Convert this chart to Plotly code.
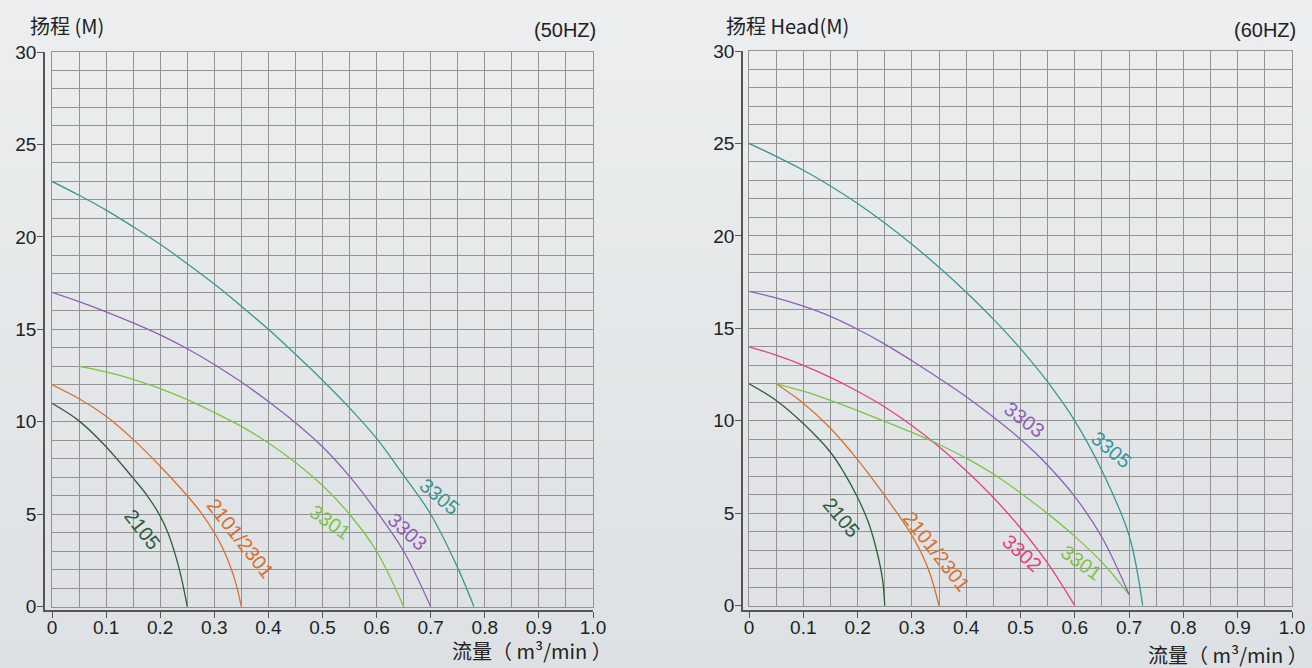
import plotly.graph_objects as go

W, H = 1312, 668

# ---------------- data ----------------
# 50 Hz panel
x_2105_50 = [0, 0.05, 0.1, 0.15, 0.175, 0.2, 0.215, 0.23, 0.24, 0.25]
y_2105_50 = [11, 10.05, 8.65, 6.95, 6.05, 4.9, 3.95, 2.6, 1.45, 0]
x_2101_50 = [0, 0.05, 0.1, 0.15, 0.2, 0.25, 0.275, 0.3, 0.315, 0.33, 0.34, 0.35]
y_2101_50 = [12, 11.25, 10.3, 9.05, 7.6, 6.0, 5.1, 4.0, 3.2, 2.15, 1.25, 0]
x_3301_50 = [0.05, 0.1, 0.15, 0.2, 0.25, 0.3, 0.35, 0.4, 0.45, 0.5, 0.55, 0.6, 0.65]
y_3301_50 = [13, 12.7, 12.3, 11.8, 11.2, 10.5, 9.75, 8.85, 7.8, 6.55, 5.0, 3.0, 0]
x_3303_50 = [0, 0.05, 0.1, 0.15, 0.2, 0.25, 0.3, 0.35, 0.4, 0.45, 0.5, 0.55, 0.6, 0.65, 0.7]
y_3303_50 = [17, 16.5, 15.95, 15.35, 14.7, 13.95, 13.1, 12.15, 11.1, 9.95, 8.65, 7.05, 5.15, 3.0, 0]
x_3305_50 = [0, 0.05, 0.1, 0.15, 0.2, 0.25, 0.3, 0.35, 0.4, 0.45, 0.5, 0.55, 0.6, 0.65, 0.7, 0.75, 0.78]
y_3305_50 = [23, 22.25, 21.45, 20.55, 19.6, 18.55, 17.45, 16.25, 15.0, 13.65, 12.25, 10.75, 9.1, 7.1, 5.0, 2.1, 0]

# 60 Hz panel
x_2105_60 = [0, 0.05, 0.1, 0.15, 0.175, 0.2, 0.22, 0.235, 0.246, 0.25]
y_2105_60 = [12, 11.1, 9.85, 8.3, 7.2, 5.85, 4.5, 3.0, 1.4, 0]
x_2101_60 = [0.05, 0.1, 0.15, 0.2, 0.25, 0.3, 0.33, 0.35]
y_2101_60 = [12, 10.95, 9.6, 7.9, 5.95, 3.8, 2.0, 0]
x_3302_60 = [0, 0.05, 0.1, 0.15, 0.2, 0.25, 0.3, 0.35, 0.4, 0.45, 0.5, 0.55, 0.6]
y_3302_60 = [14, 13.55, 13.0, 12.35, 11.6, 10.75, 9.75, 8.6, 7.3, 5.85, 4.2, 2.3, 0]
x_3301_60 = [0.05, 0.1, 0.15, 0.2, 0.25, 0.3, 0.35, 0.4, 0.45, 0.5, 0.55, 0.6, 0.65, 0.7]
y_3301_60 = [12, 11.6, 11.1, 10.55, 9.97, 9.37, 8.72, 7.98, 7.12, 6.1, 4.98, 3.75, 2.35, 0.6]
x_3303_60 = [0, 0.05, 0.1, 0.15, 0.2, 0.25, 0.3, 0.35, 0.4, 0.45, 0.5, 0.55, 0.6, 0.65, 0.7]
y_3303_60 = [17, 16.65, 16.2, 15.65, 14.95, 14.15, 13.25, 12.3, 11.3, 10.2, 9.0, 7.6, 5.9, 3.7, 0.6]
x_3305_60 = [0, 0.05, 0.1, 0.15, 0.2, 0.25, 0.3, 0.35, 0.4, 0.45, 0.5, 0.55, 0.6, 0.65, 0.7, 0.725]
y_3305_60 = [25, 24.3, 23.55, 22.7, 21.75, 20.7, 19.55, 18.3, 16.95, 15.5, 13.9, 12.1, 10.0, 7.3, 3.8, 0]

x_tickvals = [0, 0.1, 0.2, 0.3, 0.4, 0.5, 0.6, 0.7, 0.8, 0.9, 1.0]
x_ticktext = ["0", "0.1", "0.2", "0.3", "0.4", "0.5", "0.6", "0.7", "0.8", "0.9", "1.0"]
y_tickvals = [0, 5, 10, 15, 20, 25, 30]

# label name, x, y, angle
labels_50 = [("2105", 0.168, 4.15, 52), ("2101/2301", 0.3475, 3.7, 52),
             ("3301", 0.514, 4.58, 35), ("3303", 0.658, 4.04, 42), ("3305", 0.717, 5.93, 40)]
labels_60 = [("2105", 0.171, 4.74, 50), ("2101/2301", 0.346, 2.9, 52), ("3302", 0.503, 2.85, 42),
             ("3301", 0.613, 2.31, 36), ("3303", 0.508, 10.04, 37), ("3305", 0.668, 8.42, 40)]

colors = {"2105": "#2e5e3c", "2101/2301": "#d8702f", "3301": "#7cc447",
          "3302": "#e8407f", "3303": "#8e5fb5", "3305": "#3b9696"}

series_50 = [("2105", x_2105_50, y_2105_50), ("2101/2301", x_2101_50, y_2101_50),
             ("3301", x_3301_50, y_3301_50), ("3303", x_3303_50, y_3303_50),
             ("3305", x_3305_50, y_3305_50)]
series_60 = [("2105", x_2105_60, y_2105_60), ("2101/2301", x_2101_60, y_2101_60),
             ("3302", x_3302_60, y_3302_60), ("3301", x_3301_60, y_3301_60),
             ("3303", x_3303_60, y_3303_60), ("3305", x_3305_60, y_3305_60)]

fig = go.Figure()

for name, xs, ys in series_50:
    fig.add_trace(go.Scatter(x=xs, y=ys, mode="lines", xaxis="x", yaxis="y",
                             line=dict(color=colors[name], width=1.3, shape="spline", smoothing=1.0),
                             showlegend=False, hoverinfo="skip"))
for name, xs, ys in series_60:
    fig.add_trace(go.Scatter(x=xs, y=ys, mode="lines", xaxis="x2", yaxis="y2",
                             line=dict(color=colors[name], width=1.3, shape="spline", smoothing=1.0),
                             showlegend=False, hoverinfo="skip"))
# empty traces for the tick axes
fig.add_trace(go.Scatter(x=[], y=[], xaxis="x3", yaxis="y3", showlegend=False))
fig.add_trace(go.Scatter(x=[], y=[], xaxis="x4", yaxis="y4", showlegend=False))

def px_x(p):
    return p / W

def px_y(p):
    return (H - p) / H

grid_col = "#939393"
axis_col = "#555555"
tick_font = dict(family="Liberation Sans, Arial, sans-serif", size=19, color="#222222")

def grid_axis(domain, rng, dtick):
    return dict(domain=domain, range=rng, dtick=dtick, tick0=0, showgrid=True, gridcolor=grid_col,
                gridwidth=1.4, showticklabels=False, ticks="", zeroline=False, automargin=False,
                showline=True, mirror=True, linecolor=grid_col, linewidth=1.4, fixedrange=True)

def tick_axis(domain, rng, tickvals, ticktext, anchor, standoff):
    return dict(domain=domain, range=rng, tickmode="array", tickvals=tickvals, ticktext=ticktext,
                showgrid=False, zeroline=False, showline=True, linecolor=axis_col, linewidth=1.5,
                ticks="outside", ticklen=6, tickwidth=1.2, tickcolor=axis_col, tickfont=tick_font,
                anchor=anchor, fixedrange=True, automargin=False, ticklabelstandoff=standoff)

# left panel geometry (pixels)
L_x0, L_x1, L_y0, L_y1 = 52, 593, 606.7, 52
L_ax, L_ay = 45, 610
# right panel geometry
R_x0, R_x1, R_y0, R_y1 = 749, 1292, 605.7, 51
R_ax, R_ay = 743, 610

def xr_low(x0, ax, x1):
    return -(x0 - ax) / (x1 - x0)

def yr_low(y0, ay, y1):
    return -(ay - y0) / (y0 - y1) * 30

layout = dict(
    template="none",
    width=W, height=H, margin=dict(l=0, r=0, t=0, b=0, pad=0, autoexpand=False),
    paper_bgcolor="#e6e9ea", plot_bgcolor="rgba(0,0,0,0)", showlegend=False,
    xaxis=dict(grid_axis([px_x(L_x0), px_x(L_x1)], [0, 1], 0.05), anchor="y"),
    yaxis=dict(grid_axis([px_y(L_y0), px_y(L_y1)], [0, 30], 1), anchor="x"),
    xaxis2=dict(grid_axis([px_x(R_x0), px_x(R_x1)], [0, 1], 0.05), anchor="y2"),
    yaxis2=dict(grid_axis([px_y(R_y0), px_y(R_y1)], [0, 30], 1), anchor="x2"),
    xaxis3=tick_axis([px_x(L_ax), px_x(L_x1)], [xr_low(L_x0, L_ax, L_x1), 1], x_tickvals, x_ticktext, "y3", -7),
    yaxis3=tick_axis([px_y(L_ay), px_y(L_y1)], [yr_low(L_y0, L_ay, L_y1), 30], y_tickvals,
                     [str(v) for v in y_tickvals], "x3", -3),
    xaxis4=tick_axis([px_x(R_ax), px_x(R_x1)], [xr_low(R_x0, R_ax, R_x1), 1], x_tickvals, x_ticktext, "y4", -7),
    yaxis4=tick_axis([px_y(R_ay), px_y(R_y1)], [yr_low(R_y0, R_ay, R_y1), 30], y_tickvals,
                     [str(v) for v in y_tickvals], "x4", -3),
)
fig.update_layout(**layout)

# subtle vertical background gradient
top = (236, 238, 239)
bot = (221, 225, 227)
n = 24
shapes = []
for i in range(n):
    t = i / (n - 1)
    c = tuple(int(round(top[k] + (bot[k] - top[k]) * t)) for k in range(3))
    shapes.append(dict(type="rect", xref="paper", yref="paper", x0=0, x1=1,
                       y0=1 - (i + 1) / n, y1=1 - i / n, line=dict(width=0),
                       fillcolor="rgb(%d,%d,%d)" % c, layer="below"))
fig.update_layout(shapes=shapes)

cjk = "Noto Sans CJK SC, Liberation Sans, sans-serif"
txt = "#222222"
ann = [
    dict(text="扬程 (M)", x=px_x(28), y=px_y(25), xanchor="left", yanchor="middle",
         font=dict(family=cjk, size=20, color=txt)),
    dict(text="(50HZ)", x=px_x(598), y=px_y(30), xanchor="right", yanchor="middle",
         font=dict(family="Liberation Sans, Arial, sans-serif", size=20, color=txt)),
    dict(text="流量（ m³/min ）", x=px_x(614), y=px_y(650), xanchor="right", yanchor="middle",
         font=dict(family=cjk, size=20, color=txt)),
    dict(text="扬程 Head(M)", x=px_x(724), y=px_y(25), xanchor="left", yanchor="middle",
         font=dict(family=cjk, size=20, color=txt)),
    dict(text="(60HZ)", x=px_x(1298), y=px_y(30), xanchor="right", yanchor="middle",
         font=dict(family="Liberation Sans, Arial, sans-serif", size=20, color=txt)),
    dict(text="流量（ m³/min ）", x=px_x(1310), y=px_y(654), xanchor="right", yanchor="middle",
         font=dict(family=cjk, size=20, color=txt)),
]
for a in ann:
    a.update(xref="paper", yref="paper", showarrow=False)

lab_font = "Liberation Sans Narrow, Arial Narrow, Liberation Sans, sans-serif"
for name, x, y, ang in labels_50:
    ann.append(dict(text=name, x=x, y=y, xref="x", yref="y", showarrow=False, textangle=ang,
                    font=dict(family=lab_font, size=20, color=colors[name])))
for name, x, y, ang in labels_60:
    ann.append(dict(text=name, x=x, y=y, xref="x2", yref="y2", showarrow=False, textangle=ang,
                    font=dict(family=lab_font, size=20, color=colors[name])))
fig.update_layout(annotations=ann)

fig.write_html("out.html", config={"displayModeBar": False},
               post_script="document.body.style.margin='0';document.body.style.background='#e6e9ea';")
